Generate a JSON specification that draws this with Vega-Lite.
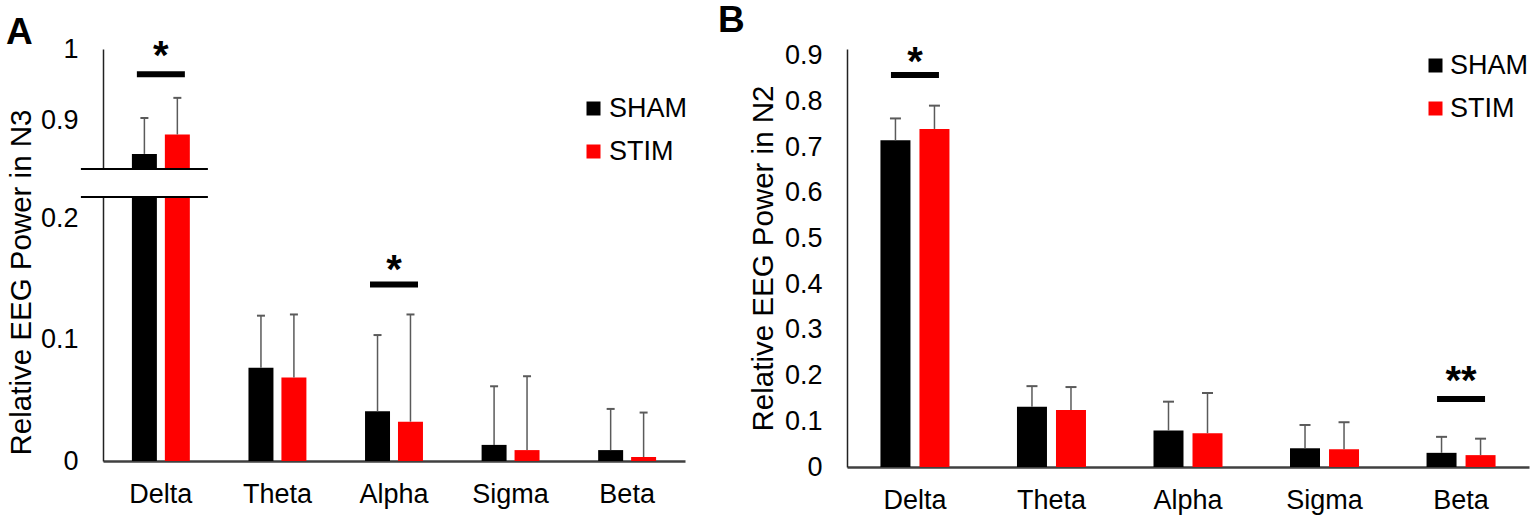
{
  "$schema": "https://vega.github.io/schema/vega-lite/v6.json",
  "padding": {"top": 1, "left": 5, "right": 5, "bottom": 5},
  "background": "#ffffff",
  "config": {
    "font": "Liberation Sans",
    "view": {"stroke": null},
    "axis": {
      "labelFont": "Liberation Sans",
      "titleFont": "Liberation Sans",
      "labelFontSize": 27,
      "titleFontSize": 29.5,
      "titleFontWeight": "normal",
      "labelColor": "#000000",
      "titleColor": "#000000",
      "grid": false,
      "ticks": false
    },
    "axisX": {"domainColor": "#404040", "domainWidth": 2.5, "labelAngle": 0, "labelPadding": 20, "title": null},
    "axisY": {"domainColor": "#222222", "domainWidth": 1.5, "labelPadding": 25},
    "legend": {
      "title": null,
      "orient": "none",
      "symbolType": "square",
      "symbolSize": 196,
      "symbolStrokeWidth": 0,
      "labelFont": "Liberation Sans",
      "labelFontSize": 27,
      "labelColor": "#000000",
      "padding": 0
    },
    "title": {"font": "Liberation Sans", "fontSize": 37, "fontWeight": "bold", "anchor": "start", "color": "#000000"}
  },
  "datasets": {
    "powerA": [
      {"band": "Delta", "group": "SHAM", "mean": 0.854, "upper": 0.904},
      {"band": "Delta", "group": "STIM", "mean": 0.881, "upper": 0.932},
      {"band": "Theta", "group": "SHAM", "mean": 0.077, "upper": 0.120},
      {"band": "Theta", "group": "STIM", "mean": 0.069, "upper": 0.121},
      {"band": "Alpha", "group": "SHAM", "mean": 0.041, "upper": 0.104},
      {"band": "Alpha", "group": "STIM", "mean": 0.0325, "upper": 0.121},
      {"band": "Sigma", "group": "SHAM", "mean": 0.0133, "upper": 0.0617},
      {"band": "Sigma", "group": "STIM", "mean": 0.009, "upper": 0.070},
      {"band": "Beta", "group": "SHAM", "mean": 0.009, "upper": 0.043},
      {"band": "Beta", "group": "STIM", "mean": 0.0033, "upper": 0.040}
    ],
    "powerB": [
      {"band": "Delta", "group": "SHAM", "mean": 0.715, "upper": 0.763},
      {"band": "Delta", "group": "STIM", "mean": 0.740, "upper": 0.791},
      {"band": "Theta", "group": "SHAM", "mean": 0.132, "upper": 0.177},
      {"band": "Theta", "group": "STIM", "mean": 0.125, "upper": 0.175},
      {"band": "Alpha", "group": "SHAM", "mean": 0.080, "upper": 0.143},
      {"band": "Alpha", "group": "STIM", "mean": 0.074, "upper": 0.162},
      {"band": "Sigma", "group": "SHAM", "mean": 0.041, "upper": 0.092},
      {"band": "Sigma", "group": "STIM", "mean": 0.039, "upper": 0.098},
      {"band": "Beta", "group": "SHAM", "mean": 0.031, "upper": 0.066},
      {"band": "Beta", "group": "STIM", "mean": 0.026, "upper": 0.062}
    ],
    "sigAUpper": [{"band": "Delta", "line": 0.965, "star": 0.972, "label": "*"}],
    "sigALower": [{"band": "Alpha", "line": 0.1458, "star": 0.147, "label": "*"}],
    "sigB": [
      {"band": "Delta", "line": 0.858, "star": 0.858, "label": "*"},
      {"band": "Beta", "line": 0.149, "star": 0.159, "label": "**"}
    ],
    "breakUpper": [{"band": "Delta", "group": "SHAM", "v": 0.833}],
    "breakLower": [{"band": "Delta", "group": "SHAM", "v": 0.218}]
  },
  "bounds": "flush",
  "spacing": 744,
  "resolve": {
    "scale": {"x": "independent", "y": "independent", "xOffset": "independent", "color": "independent"},
    "legend": {"color": "independent"}
  },
  "hconcat": [
    {
      "title": {"text": "A", "offset": -17},
      "bounds": "flush",
      "spacing": 28,
      "resolve": {
        "scale": {"y": "independent", "color": "independent"},
        "legend": {"color": "independent"}
      },
      "vconcat": [
        {
          "width": 582,
          "height": 120,
          "encoding": {
            "x": {
              "field": "band",
              "type": "nominal",
              "scale": {"domain": ["Delta", "Theta", "Alpha", "Sigma", "Beta"], "paddingInner": 0.503, "paddingOuter": 0.248},
              "axis": null
            }
          },
          "layer": [
            {
              "data": {"name": "powerA"},
              "mark": {"type": "bar", "clip": true},
              "encoding": {
                "xOffset": {"field": "group", "type": "nominal", "scale": {"domain": ["SHAM", "STIM"], "paddingInner": 0.242}},
                "y": {
                  "field": "mean",
                  "type": "quantitative",
                  "scale": {"domain": [0.833, 1.0], "zero": false, "nice": false},
                  "axis": {"values": [0.9, 1.0], "format": ".1~f", "title": null}
                },
                "color": {
                  "field": "group",
                  "type": "nominal",
                  "scale": {"domain": ["SHAM", "STIM"], "range": ["#000000", "#ff0000"]},
                  "legend": {"legendX": 477, "legendY": 46, "rowPadding": 15, "labelOffset": 2}
                }
              }
            },
            {
              "data": {"name": "powerA"},
              "mark": {"type": "rule", "clip": true, "color": "#5a5a5a", "strokeWidth": 1.5},
              "encoding": {
                "xOffset": {"field": "group", "type": "nominal"},
                "y": {"field": "mean", "type": "quantitative"},
                "y2": {"field": "upper"}
              }
            },
            {
              "data": {"name": "powerA"},
              "mark": {"type": "tick", "clip": true, "color": "#5a5a5a", "opacity": 1, "size": 8, "thickness": 2},
              "encoding": {
                "xOffset": {"field": "group", "type": "nominal"},
                "y": {"field": "upper", "type": "quantitative"}
              }
            },
            {
              "data": {"name": "breakUpper"},
              "mark": {"type": "tick", "color": "#000000", "opacity": 1, "size": 127, "thickness": 2},
              "encoding": {
                "xOffset": {"field": "group", "type": "nominal"},
                "y": {"field": "v", "type": "quantitative"}
              }
            },
            {
              "data": {"name": "sigAUpper"},
              "mark": {"type": "tick", "color": "#000000", "opacity": 1, "size": 48, "thickness": 6},
              "encoding": {"y": {"field": "line", "type": "quantitative"}}
            },
            {
              "data": {"name": "sigAUpper"},
              "mark": {"type": "text", "font": "Liberation Sans", "fontSize": 40, "fontWeight": "bold", "baseline": "alphabetic", "align": "center"},
              "encoding": {
                "y": {"field": "star", "type": "quantitative"},
                "text": {"field": "label"}
              }
            }
          ]
        },
        {
          "width": 582,
          "height": 264,
          "encoding": {
            "x": {
              "field": "band",
              "type": "nominal",
              "scale": {"domain": ["Delta", "Theta", "Alpha", "Sigma", "Beta"], "paddingInner": 0.503, "paddingOuter": 0.248},
              "axis": {}
            }
          },
          "layer": [
            {
              "data": {"name": "powerA"},
              "mark": {"type": "bar", "clip": true},
              "encoding": {
                "xOffset": {"field": "group", "type": "nominal", "scale": {"domain": ["SHAM", "STIM"], "paddingInner": 0.242}},
                "y": {
                  "field": "mean",
                  "type": "quantitative",
                  "scale": {"domain": [0, 0.218], "nice": false},
                  "axis": {
                    "values": [0, 0.1, 0.2],
                    "format": ".1~f",
                    "title": "Relative EEG Power in N3",
                    "titleX": -82,
                    "titleY": 85,
                    "titleBaseline": "middle"
                  }
                },
                "color": {
                  "field": "group",
                  "type": "nominal",
                  "scale": {"domain": ["SHAM", "STIM"], "range": ["#000000", "#ff0000"]},
                  "legend": null
                }
              }
            },
            {
              "data": {"name": "powerA"},
              "mark": {"type": "rule", "clip": true, "color": "#5a5a5a", "strokeWidth": 1.5},
              "encoding": {
                "xOffset": {"field": "group", "type": "nominal"},
                "y": {"field": "mean", "type": "quantitative"},
                "y2": {"field": "upper"}
              }
            },
            {
              "data": {"name": "powerA"},
              "mark": {"type": "tick", "clip": true, "color": "#5a5a5a", "opacity": 1, "size": 8, "thickness": 2},
              "encoding": {
                "xOffset": {"field": "group", "type": "nominal"},
                "y": {"field": "upper", "type": "quantitative"}
              }
            },
            {
              "data": {"name": "breakLower"},
              "mark": {"type": "tick", "color": "#000000", "opacity": 1, "size": 127, "thickness": 2},
              "encoding": {
                "xOffset": {"field": "group", "type": "nominal"},
                "y": {"field": "v", "type": "quantitative"}
              }
            },
            {
              "data": {"name": "sigALower"},
              "mark": {"type": "tick", "color": "#000000", "opacity": 1, "size": 48, "thickness": 6},
              "encoding": {"y": {"field": "line", "type": "quantitative"}}
            },
            {
              "data": {"name": "sigALower"},
              "mark": {"type": "text", "font": "Liberation Sans", "fontSize": 40, "fontWeight": "bold", "baseline": "alphabetic", "align": "center"},
              "encoding": {
                "y": {"field": "star", "type": "quantitative"},
                "text": {"field": "label"}
              }
            }
          ]
        }
      ]
    },
    {
      "title": {"text": "B", "offset": -2, "dx": -30, "dy": -4},
      "width": 682,
      "height": 418,
      "encoding": {
        "x": {
          "field": "band",
          "type": "nominal",
          "scale": {"domain": ["Delta", "Theta", "Alpha", "Sigma", "Beta"], "paddingInner": 0.4945, "paddingOuter": 0.245},
          "axis": {}
        }
      },
      "layer": [
        {
          "data": {"name": "powerB"},
          "mark": {"type": "bar"},
          "encoding": {
            "xOffset": {"field": "group", "type": "nominal", "scale": {"domain": ["SHAM", "STIM"], "paddingInner": 0.231}},
            "y": {
              "field": "mean",
              "type": "quantitative",
              "scale": {"domain": [0, 0.915], "nice": false},
              "axis": {
                "values": [0, 0.1, 0.2, 0.3, 0.4, 0.5, 0.6, 0.7, 0.8, 0.9],
                "format": ".1~f",
                "title": "Relative EEG Power in N2",
                "titleX": -84,
                "titleBaseline": "middle"
              }
            },
            "color": {
              "field": "group",
              "type": "nominal",
              "scale": {"domain": ["SHAM", "STIM"], "range": ["#000000", "#ff0000"]},
              "legend": {"legendX": 575, "legendY": 3, "rowPadding": 15, "labelOffset": 1}
            }
          }
        },
        {
          "data": {"name": "powerB"},
          "mark": {"type": "rule", "color": "#5a5a5a", "strokeWidth": 1.5},
          "encoding": {
            "xOffset": {"field": "group", "type": "nominal"},
            "y": {"field": "mean", "type": "quantitative"},
            "y2": {"field": "upper"}
          }
        },
        {
          "data": {"name": "powerB"},
          "mark": {"type": "tick", "color": "#5a5a5a", "opacity": 1, "size": 11, "thickness": 2},
          "encoding": {
            "xOffset": {"field": "group", "type": "nominal"},
            "y": {"field": "upper", "type": "quantitative"}
          }
        },
        {
          "data": {"name": "sigB"},
          "mark": {"type": "tick", "color": "#000000", "opacity": 1, "size": 48, "thickness": 6},
          "encoding": {"y": {"field": "line", "type": "quantitative"}}
        },
        {
          "data": {"name": "sigB"},
          "mark": {"type": "text", "font": "Liberation Sans", "fontSize": 40, "fontWeight": "bold", "baseline": "alphabetic", "align": "center"},
          "encoding": {
            "y": {"field": "star", "type": "quantitative"},
            "text": {"field": "label"}
          }
        }
      ]
    }
  ]
}
